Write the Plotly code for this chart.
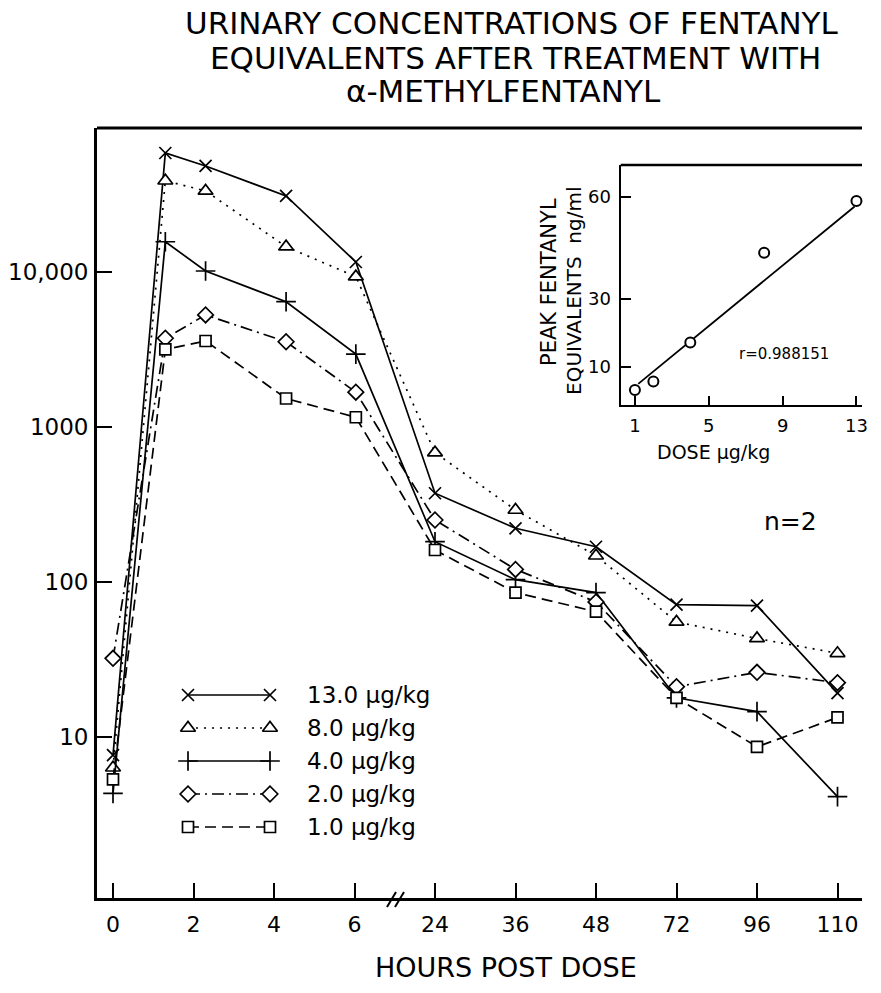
import numpy as np
import plotly.graph_objects as go

# ---------------- data ----------------
hour_ticks = [0, 2, 4, 6, 24, 36, 48, 72, 96, 110]
hour_tick_text = ["0", "2", "4", "6", "24", "36", "48", "72", "96", "110"]
sample_hours = [0, 1.3, 2.3, 4.3, 6.3, 24, 36, 48, 72, 96, 110]

dose_labels = ["13.0 μg/kg", "8.0 μg/kg", "4.0 μg/kg", "2.0 μg/kg", "1.0 μg/kg"]
conc_13_0 = [7.6, 58300, 48100, 30800, 11550, 372, 221, 168, 71, 70, 19.1]
conc_8_0 = [6.3, 38600, 33200, 14500, 9290, 680, 290, 147, 55, 43, 34.5]
conc_4_0 = [4.3, 15600, 10100, 6400, 2940, 181, 103, 85, 17.8, 14.5, 4.1]
conc_2_0 = [32, 3720, 5260, 3530, 1670, 250, 120, 74, 21, 26, 22.3]
conc_1_0 = [5.3, 3150, 3570, 1520, 1150, 160, 85, 64, 17.8, 8.6, 13.3]

y_tick_vals = [10, 100, 1000, 10000]
y_tick_text = ["10", "100", "1000", "10,000"]

inset_dose = [1, 2, 4, 8, 13]
inset_peak = [3.1, 5.6, 17.1, 43.5, 58.7]
inset_line_dose = [1.18, 12.9]
inset_line_peak = [4.9, 57.1]
inset_x_ticks = [1, 5, 9, 13]
inset_y_ticks = [10, 30, 60]
inset_r_text = "r=0.988151"

# ---------------- styling / layout helpers ----------------
FONT = "DejaVu Sans"
W, H = 881, 993
L, R, T, B = 97, 862, 128, 898


def px_x(X):
    return (X - L) / (R - L)


def px_y(Y):
    return (B - Y) / (B - T)


def to_pos(h):
    # broken (piecewise) hour axis: each labelled hour gets an equal slot
    return np.interp(h, hour_ticks, np.arange(len(hour_ticks)))


series = [conc_13_0, conc_8_0, conc_4_0, conc_2_0, conc_1_0]
symbols = ["x-thin", "triangle-up", "cross-thin", "diamond", "square"]
dashes = ["solid", "2px,6px", "solid", "12px,5px,2px,5px", "11px,6px"]
msizes = [12, 13, 14, 12, 11]

fig = go.Figure()
xpos = to_pos(sample_hours)
for vals, sym, dash, ms in zip(series, symbols, dashes, msizes):
    fig.add_trace(go.Scatter(
        x=xpos, y=vals, mode="lines+markers",
        line=dict(color="black", width=1.7, dash=dash),
        marker=dict(symbol=sym, size=ms, color="white",
                    line=dict(color="black", width=1.7)),
        showlegend=False, cliponaxis=False, hoverinfo="skip"))

# custom legend glyphs (marker — line — marker), one row per series
for i, (sym, dash, ms) in enumerate(zip(symbols, dashes, msizes)):
    fig.add_trace(go.Scatter(
        x=[0, 1], y=[i, i], xaxis="x3", yaxis="y3", mode="lines+markers",
        line=dict(color="black", width=1.7, dash=dash),
        marker=dict(symbol=sym, size=ms, color="white",
                    line=dict(color="black", width=1.7)),
        showlegend=False, cliponaxis=False, hoverinfo="skip"))

# inset: peak vs dose
fig.add_trace(go.Scatter(
    x=inset_line_dose, y=inset_line_peak, xaxis="x2", yaxis="y2",
    mode="lines", line=dict(color="black", width=1.8),
    showlegend=False, hoverinfo="skip"))
fig.add_trace(go.Scatter(
    x=inset_dose, y=inset_peak, xaxis="x2", yaxis="y2", mode="markers",
    marker=dict(symbol="circle", size=10, color="white",
                line=dict(color="black", width=2)),
    showlegend=False, cliponaxis=False, hoverinfo="skip"))

axis_common = dict(showgrid=False, zeroline=False, showline=True,
                   linecolor="black", ticks="inside", tickcolor="black",
                   automargin=False)

annotations = []


def add_text(text, X, Y, size, angle=0):
    annotations.append(dict(
        text=text, xref="paper", yref="paper", x=px_x(X), y=px_y(Y),
        xanchor="center", yanchor="middle", showarrow=False, textangle=angle,
        font=dict(family=FONT, size=size, color="black")))


add_text("URINARY CONCENTRATIONS OF FENTANYL", 512, 23, 31)
add_text("EQUIVALENTS AFTER TREATMENT WITH", 515, 58, 31)
add_text("α-METHYLFENTANYL", 503, 91, 31)
add_text("HOURS POST DOSE", 506, 967, 27)
add_text("n=2", 790, 521, 25)
add_text(inset_r_text, 784, 354, 15)
add_text("DOSE μg/kg", 713, 452, 19)
add_text("PEAK FENTANYL", 549, 282, 21, -90)
add_text("EQUIVALENTS  ng/ml", 574, 291, 20, -90)

for i, lab in enumerate(dose_labels):
    annotations.append(dict(
        text=lab, xref="x3", yref="y3", x=1, y=i, xanchor="left",
        yanchor="middle", xshift=35, showarrow=False,
        font=dict(family=FONT, size=23, color="black")))

shapes = [
    # top frame line of the main panel
    dict(type="line", xref="paper", yref="paper", x0=0, x1=1, y0=1, y1=1,
         line=dict(color="black", width=2.8)),
    # top frame line of the inset
    dict(type="line", xref="paper", yref="paper", x0=px_x(620.7), x1=1,
         y0=px_y(165), y1=px_y(165), line=dict(color="black", width=2.5)),
    # axis break marks "//"
    dict(type="line", xref="paper", yref="paper", x0=px_x(387), x1=px_x(396),
         y0=px_y(907), y1=px_y(892), line=dict(color="black", width=2)),
    dict(type="line", xref="paper", yref="paper", x0=px_x(395), x1=px_x(404),
         y0=px_y(907), y1=px_y(892), line=dict(color="black", width=2)),
]

fig.update_layout(
    width=W, height=H,
    margin=dict(l=L, r=W - R, t=T, b=H - B, pad=0, autoexpand=False),
    paper_bgcolor="white", plot_bgcolor="rgba(0,0,0,0)",
    font=dict(family=FONT, color="black"),
    showlegend=False,
    xaxis=dict(domain=[0, 1], range=[-16 / 80.5, (R - 113) / 80.5],
               tickvals=list(range(len(hour_ticks))), ticktext=hour_tick_text,
               ticklen=15, tickwidth=2, linewidth=2.8,
               tickfont=dict(family=FONT, size=22), ticklabelstandoff=5,
               **axis_common),
    yaxis=dict(domain=[0, 1], type="log", range=[-0.041, 4.927],
               tickvals=y_tick_vals, ticktext=y_tick_text,
               ticklen=15, tickwidth=2, linewidth=2.8,
               tickfont=dict(family=FONT, size=23), ticklabelstandoff=1,
               **axis_common),
    xaxis2=dict(domain=[px_x(620.7), 1], anchor="y2", range=[0.23, 13.3],
                tickvals=inset_x_ticks, ticklen=9, tickwidth=2, linewidth=2.2,
                tickfont=dict(family=FONT, size=18), ticklabelstandoff=3,
                **axis_common),
    yaxis2=dict(domain=[px_y(405), px_y(165)], anchor="x2", range=[-1.3, 69.3],
                tickvals=inset_y_ticks, ticklen=10, tickwidth=2, linewidth=2.2,
                tickfont=dict(family=FONT, size=18), ticklabelstandoff=4,
                **axis_common),
    xaxis3=dict(domain=[px_x(178), px_x(280)], anchor="y3",
                range=[-10 / 82, 1 + 10 / 82], visible=False),
    yaxis3=dict(domain=[px_y(842), px_y(680)], anchor="x3",
                range=[4.4545, -0.4545], visible=False),
    annotations=annotations,
    shapes=shapes,
)

fig.write_html("out.html")
